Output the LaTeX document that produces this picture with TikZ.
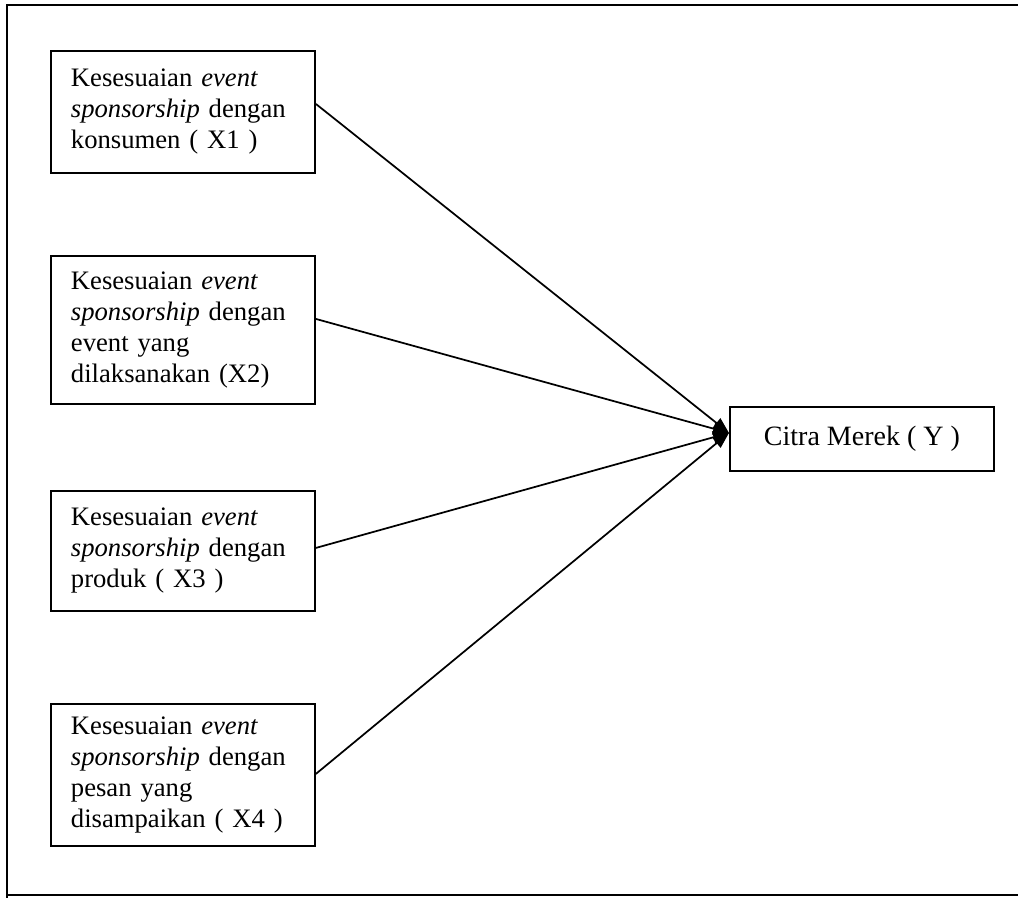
\documentclass[tikz,border=0pt]{standalone}
\usepackage{fontspec}
\setmainfont{Liberation Serif}
\usetikzlibrary{arrows.meta,calc}
\begin{document}
\begin{tikzpicture}[x=0.75pt,y=-0.75pt,
  xbox/.style={draw,line width=1.4pt,anchor=north west,minimum width=264*0.75pt,
    text width=224*0.75pt,align=left,inner xsep=20*0.75pt,inner ysep=0pt,
    font=\fontsize{20}{23.2}\selectfont},
  conn/.style={line width=1.3pt,-{Triangle[length=12pt,width=9pt]}}]
\useasboundingbox (0,0) rectangle (1018,898);
\fill[white] (0,0) rectangle (1018,898);
\draw[line width=1.5pt] (7,1030) -- (7,5) -- (1030,5);
\draw[line width=1.5pt] (7,895) -- (1030,895);
\node[xbox,minimum height=122*0.75pt] (x1) at (50,50)
  {Kesesuaian \textit{event}\\ \textit{sponsorship} dengan\\ konsumen ( X1 )};
\node[xbox,minimum height=148*0.75pt] (x2) at (50,255)
  {Kesesuaian \textit{event}\\ \textit{sponsorship} dengan\\ event yang\\ dilaksanakan (X2)};
\node[xbox,minimum height=120*0.75pt] (x3) at (50,490)
  {Kesesuaian \textit{event}\\ \textit{sponsorship} dengan\\ produk ( X3 )};
\node[xbox,minimum height=142*0.75pt] (x4) at (50,703)
  {Kesesuaian \textit{event}\\ \textit{sponsorship} dengan\\ pesan yang\\ disampaikan ( X4 )};
\node[draw,line width=1.4pt,anchor=north west,minimum width=264*0.75pt,minimum height=64*0.75pt,
  inner sep=0pt,font=\fontsize{21}{24}\selectfont] (y) at (729,406) {Citra Merek ( Y )};
\coordinate (tip) at ($(y.west)+(0,-6)$);
\draw[conn] ($(x1.east)+(0,-8)$) -- (tip);
\draw[conn] ($(x2.east)+(0,-11)$) -- (tip);
\draw[conn] ($(x3.east)+(0,-3)$) -- (tip);
\draw[conn] ($(x4.east)+(0,-1)$) -- (tip);
\end{tikzpicture}
\end{document}
